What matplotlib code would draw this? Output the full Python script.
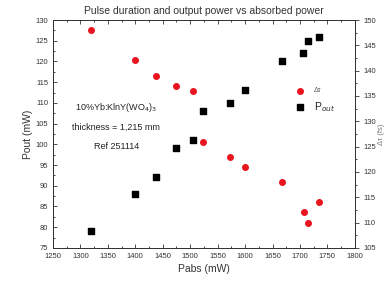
import numpy as np
import matplotlib
matplotlib.use("Agg")
import matplotlib.pyplot as plt

plt.rcParams['font.family'] = ['Liberation Sans', 'DejaVu Sans']

# absorbed pump power (mW)
pabs = [1320, 1400, 1438, 1475, 1505, 1523, 1572, 1600, 1668, 1707, 1715, 1735]
# output power (mW), left axis
pout_x = [1320, 1400, 1438, 1475, 1505, 1523, 1572, 1600, 1668, 1705, 1715, 1735]
pout = [79, 88, 92, 99, 101, 108, 110, 113, 120, 122, 125, 126]
# pulse duration (fs), right axis
dtau = [148.1, 142.1, 139.0, 136.9, 135.9, 126.0, 123.0, 121.0, 118.1, 112.0, 109.9, 114.0]

fig = plt.figure(figsize=(3.84, 2.82), dpi=100)
ax = fig.add_axes([0.138, 0.121, 0.786, 0.808])
ax2 = ax.twinx()

ax.scatter(pout_x, pout, marker='s', s=14, color='black', zorder=3)
ax2.scatter(pabs, dtau, marker='o', s=16, color='#e8141e', zorder=3)

ax.set_xlim(1250, 1800)
ax.set_ylim(75, 130)
ax2.set_ylim(105, 150)
ax.set_xticks(np.arange(1250, 1801, 50))
ax.set_yticks(np.arange(75, 131, 5))
ax2.set_yticks(np.arange(105, 151, 5))
ax.set_xticks(np.arange(1275, 1800, 50), minor=True)
ax.set_yticks(np.arange(77.5, 130, 5), minor=True)
ax2.set_yticks(np.arange(107.5, 150, 5), minor=True)

ax.tick_params(which='major', labelsize=5.5, length=3, width=0.6, colors='#333333', direction='out')
ax.tick_params(which='minor', length=1.5, width=0.5, direction='out')
ax.tick_params(top=True, which='both', direction='in')
ax2.tick_params(which='major', labelsize=5.5, length=3, width=0.6, colors='#333333', direction='out')
ax2.tick_params(which='minor', length=1.5, width=0.5, direction='out')
for a in (ax, ax2):
    for s in a.spines.values():
        s.set_linewidth(0.7)
        s.set_color('#333333')

ax.set_xlabel('Pabs (mW)', fontsize=7.5, color='#333333', labelpad=3)
ax.set_ylabel('Pout (mW)', fontsize=7.5, color='#333333', labelpad=2)
ax2.set_ylabel('Δτ (fs)', fontsize=5.5, color='#777777', labelpad=1)
ax.set_title('Pulse duration and output power vs absorbed power', fontsize=7.5, color='#333333', pad=4)

ax.text(0.21, 0.618, '10%Yb:KlnY(WO$_4$)$_3$', transform=ax.transAxes, fontsize=6.5, ha='center', va='center', color='#222222')
ax.text(0.21, 0.531, 'thickness = 1,215 mm', transform=ax.transAxes, fontsize=6.5, ha='center', va='center', color='#222222')
ax.text(0.21, 0.443, 'Ref 251114', transform=ax.transAxes, fontsize=6.5, ha='center', va='center', color='#222222')

# legend drawn by hand in axes coordinates
ax.scatter([0.818], [0.689], transform=ax.transAxes, marker='o', s=16, color='#e8141e', clip_on=False)
ax.text(0.865, 0.689, 'Δτ', transform=ax.transAxes, fontsize=5, va='center', color='#555555')
ax.scatter([0.818], [0.618], transform=ax.transAxes, marker='s', s=14, color='black', clip_on=False)
ax.text(0.865, 0.618, 'P$_{out}$', transform=ax.transAxes, fontsize=7.5, va='center', color='#222222')

fig.savefig('out.png', dpi=100)
